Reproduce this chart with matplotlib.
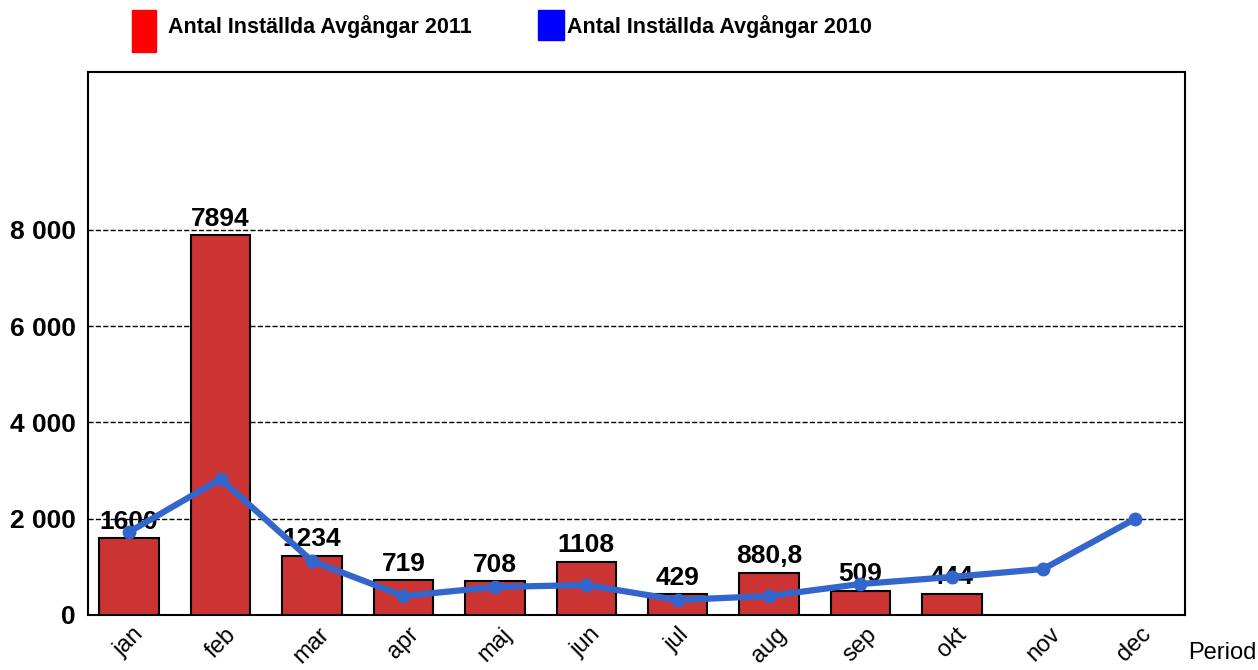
import matplotlib.pyplot as plt
import matplotlib.patches as patches
from matplotlib.ticker import FuncFormatter

plt.rcParams['font.family'] = ['Liberation Sans', 'DejaVu Sans']

months = ["jan", "feb", "mar", "apr", "maj", "jun", "jul", "aug", "sep", "okt", "nov", "dec"]
cancelled_2011 = [1600, 7894, 1234, 719, 708, 1108, 429, 880.8, 509, 444]
bar_labels_2011 = ["1600", "7894", "1234", "719", "708", "1108", "429", "880,8", "509", "444"]
cancelled_2010 = [1725, 2826, 1122, 395, 582, 623, 312, 395, 644, 790, 956, 1995]
yticks = [0, 2000, 4000, 6000, 8000]

fig = plt.figure(figsize=(12.58, 6.70), dpi=100)
ax = fig.add_axes([88 / 1258, 55 / 670, 1097 / 1258, 543 / 670])

x = list(range(len(months)))
ax.bar(x[:len(cancelled_2011)], cancelled_2011, width=0.65, color="#CC3333",
       edgecolor="black", linewidth=1.5, zorder=3)
ax.plot(x, cancelled_2010, color="#3366CC", linewidth=4.5, marker="o",
        markersize=9, zorder=6)

for xi, v, lab in zip(x, cancelled_2011, bar_labels_2011):
    ax.text(xi, v + 90, lab, ha="center", va="bottom", fontsize=19,
            fontweight="bold", zorder=5)

ax.set_xlim(-0.45, 11.55)
ax.set_ylim(0, 11283)
ax.set_yticks(yticks)
ax.yaxis.set_major_formatter(FuncFormatter(lambda v, p: f"{int(v):,}".replace(",", " ")))
ax.yaxis.grid(True, linestyle="--", color="black", linewidth=1, zorder=0)
ax.set_axisbelow(True)
ax.set_xticks(x)
ax.set_xticklabels(months, rotation=45, fontsize=17)
ax.tick_params(axis="y", length=0, labelsize=19, pad=9)
ax.tick_params(axis="x", length=0, pad=6)
for lbl in ax.get_yticklabels():
    lbl.set_fontweight("bold")
for s in ax.spines.values():
    s.set_linewidth(1.5)
    s.set_color("black")

fig.text(1188 / 1258, 6 / 670, "Period", fontsize=17, ha="left", va="bottom")

# legend
fig.add_artist(patches.Rectangle((132 / 1258, 1 - 52 / 670), 24 / 1258, 42 / 670,
                                 transform=fig.transFigure, color="#FF0000"))
fig.add_artist(patches.Rectangle((538 / 1258, 1 - 40 / 670), 26 / 1258, 30 / 670,
                                 transform=fig.transFigure, color="#0000FF"))
fig.text(168 / 1258, 1 - 27 / 670, "Antal Inställda Avgångar 2011", fontsize=15.5,
         fontweight="bold", va="center", ha="left")
fig.text(567 / 1258, 1 - 27 / 670, "Antal Inställda Avgångar 2010", fontsize=15.5,
         fontweight="bold", va="center", ha="left")

fig.savefig("out.png", dpi=100)
